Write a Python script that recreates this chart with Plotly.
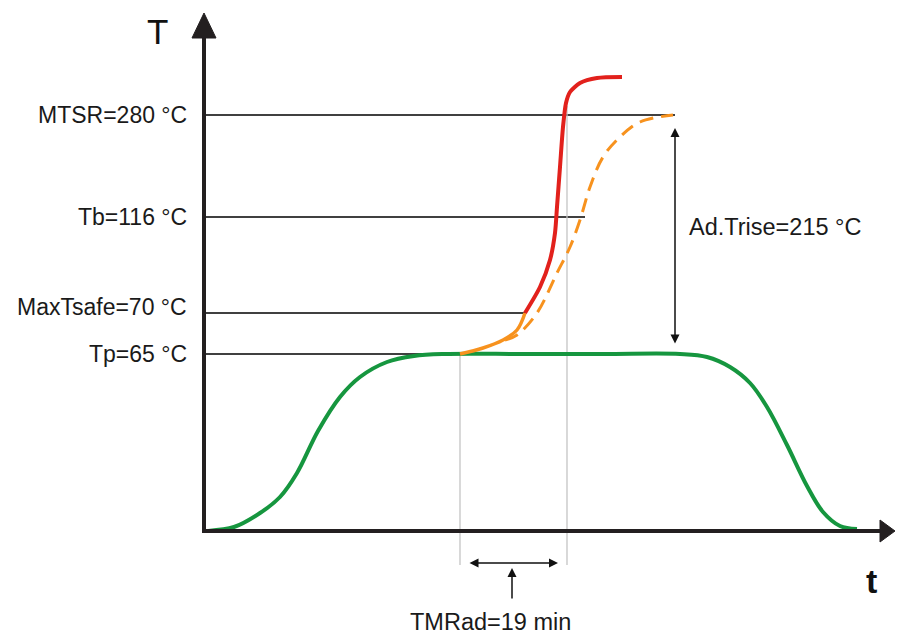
import plotly.graph_objects as go

# ---- schematic data (t = time units from origin, h = temperature height units) ----
levels = [416, 314, 218, 177]
level_labels = ["MTSR=280 °C", "Tb=116 °C", "MaxTsafe=70 °C", "Tp=65 °C"]
level_line_end = [471, 381, 321, 256]
level_label_shift = [0, 0, 6, 0]

green_t = [0, 3, 30, 56, 76, 93, 114, 136, 156, 183, 210, 240, 320, 400, 476, 503, 526, 546, 563, 583, 603, 619, 636, 653]
green_h = [0, 0, 4, 18, 34, 58, 100, 134, 154, 169, 175, 177, 177, 177, 177, 174, 164, 148, 124, 86, 45, 19, 5, 2]

orange_t = [256, 279, 299, 313, 321]
orange_h = [177, 183, 191, 201, 218]

red_t = [321, 336, 346, 351, 353, 356, 359, 362, 366, 376, 393, 418]
red_h = [218, 244, 271, 298, 324, 364, 404, 428, 439, 448, 453, 454]

dashed_t = [301, 313, 333, 353, 366, 376, 386, 399, 416, 436, 469]
dashed_h = [191, 196, 218, 258, 284, 311, 344, 374, 394, 409, 416]

gray_t = [256, 363]
gray_top = [177, 425]
gray_bottom = -34

tmrad_t = [264, 354]
tmrad_h = -32
tmrad_label = "TMRad=19 min"
trise_t = 471
trise_h = [403, 186]
trise_label = "Ad.Trise=215 °C"

FONT = "Liberation Sans, Arial, sans-serif"
AX = "#231f20"
fig = go.Figure()

# horizontal level lines
for lv, end in zip(levels, level_line_end):
    fig.add_trace(go.Scatter(x=[0, end], y=[lv, lv], mode="lines",
                             line=dict(color="#000000", width=1.3), hoverinfo="skip"))
# gray vertical lines
for gt, top in zip(gray_t, gray_top):
    fig.add_trace(go.Scatter(x=[gt, gt], y=[gray_bottom, top], mode="lines",
                             line=dict(color="#c4c4c4", width=1.3), hoverinfo="skip"))

# curves
fig.add_trace(go.Scatter(x=dashed_t, y=dashed_h, mode="lines", line_shape="spline",
                         line=dict(color="#f7921e", width=3, dash="14px,8px")))
fig.add_trace(go.Scatter(x=green_t, y=green_h, mode="lines",
                         line=dict(color="#16963f", width=4, shape="spline", smoothing=1.0)))
fig.add_trace(go.Scatter(x=orange_t, y=orange_h, mode="lines", line_shape="spline",
                         line=dict(color="#f7921e", width=3.5)))
fig.add_trace(go.Scatter(x=red_t, y=red_h, mode="lines",
                         line=dict(color="#e2211c", width=4, shape="spline", smoothing=0.7)))

# axes
fig.add_trace(go.Scatter(x=[0, 0], y=[-2, 495], mode="lines", line=dict(color=AX, width=4)))
fig.add_trace(go.Scatter(x=[-2, 678], y=[0, 0], mode="lines", line=dict(color=AX, width=4)))
fig.add_trace(go.Scatter(x=[-12, 0, 12, -12], y=[493, 518, 493, 493], mode="lines", fill="toself",
                         fillcolor=AX, line=dict(color=AX, width=1)))
fig.add_trace(go.Scatter(x=[676, 691, 676, 676], y=[11, 0, -11, 11], mode="lines", fill="toself",
                         fillcolor=AX, line=dict(color=AX, width=1)))

ann = []
for lv, lab, sh in zip(levels, level_labels, level_label_shift):
    ann.append(dict(x=-15, y=lv + sh, text=lab, showarrow=False, xanchor="right", yanchor="middle",
                    font=dict(family=FONT, size=23, color="#1a1a1a")))
ann.append(dict(x=-47, y=500, text="T", showarrow=False, xanchor="center", yanchor="middle",
                font=dict(family=FONT, size=35, color="#111")))
ann.append(dict(x=667, y=-50, text="<b>t</b>", showarrow=False, xanchor="center", yanchor="middle",
                font=dict(family=FONT, size=34, color="#111")))
ann.append(dict(x=286, y=-91, text=tmrad_label, showarrow=False, xanchor="center", yanchor="middle",
                font=dict(family=FONT, size=23.5, color="#1a1a1a")))
ann.append(dict(x=trise_t + 12, y=304, text=trise_label, showarrow=False, xanchor="left", yanchor="middle",
                font=dict(family=FONT, size=23.5, color="#1a1a1a")))
# double arrows
ann.append(dict(x=tmrad_t[1], y=tmrad_h, ax=tmrad_t[0], ay=tmrad_h, xref="x", yref="y", axref="x", ayref="y",
                text="", showarrow=True, arrowhead=2, startarrowhead=2, arrowside="end+start",
                arrowsize=1.2, startarrowsize=1.2, arrowwidth=1.5, arrowcolor="#111"))
ann.append(dict(x=308, y=-37, ax=308, ay=-69, xref="x", yref="y", axref="x", ayref="y",
                text="", showarrow=True, arrowhead=2, arrowsize=1.2, arrowwidth=1.5, arrowcolor="#111"))
ann.append(dict(x=trise_t, y=trise_h[0], ax=trise_t, ay=trise_h[1], xref="x", yref="y", axref="x", ayref="y",
                text="", showarrow=True, arrowhead=2, startarrowhead=2, arrowside="end+start",
                arrowsize=1.2, startarrowsize=1.2, arrowwidth=1.5, arrowcolor="#111"))

fig.update_layout(
    width=899, height=634, margin=dict(l=0, r=0, t=0, b=0),
    paper_bgcolor="white", plot_bgcolor="white", showlegend=False,
    xaxis=dict(range=[-204, 695], visible=False, fixedrange=True),
    yaxis=dict(range=[-103, 531], visible=False, fixedrange=True),
    annotations=ann,
)
fig.write_html("out.html")
